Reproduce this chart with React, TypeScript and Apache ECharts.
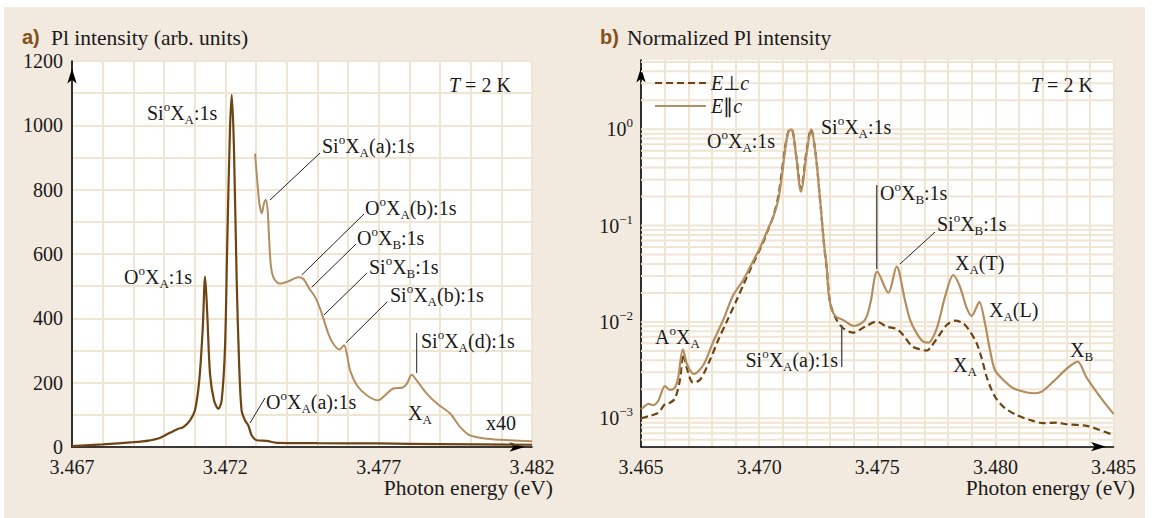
import React, { useEffect, useRef } from "react";
import * as echarts from "echarts";

// ---------- Panel a) : PL intensity (linear) ----------
const xTicksA = [3.467, 3.472, 3.477, 3.482];
const yTicksA = [0, 200, 400, 600, 800, 1000, 1200];

// main spectrum [photon energy eV, intensity]
const mainSpectrumA: [number, number][] = [
  [3.467, 3], [3.468, 8], [3.469, 15], [3.4695, 20], [3.46984, 27], [3.47019, 44],
  [3.47045, 56], [3.47063, 62], [3.47085, 83], [3.47101, 114], [3.47115, 207],
  [3.47126, 363], [3.47134, 530], [3.47141, 415], [3.4715, 228], [3.47163, 145],
  [3.47177, 119], [3.47188, 145], [3.47199, 311], [3.47206, 622], [3.47215, 984],
  [3.47221, 1095], [3.47228, 933], [3.47237, 518], [3.47245, 259], [3.47253, 114],
  [3.47264, 83], [3.47275, 67], [3.47286, 36], [3.47302, 21], [3.47335, 19],
  [3.47368, 13], [3.475, 12], [3.477, 11], [3.479, 9], [3.482, 7],
];

// x40 magnified spectrum
const x40SpectrumA: [number, number][] = [
  [3.47297, 912], [3.47304, 829], [3.47311, 757], [3.47319, 727], [3.47326, 757],
  [3.47332, 769], [3.47338, 736], [3.47343, 643], [3.47349, 560], [3.47359, 523],
  [3.47378, 508], [3.47405, 515], [3.47438, 528], [3.47454, 523], [3.47474, 492],
  [3.47493, 466], [3.47509, 430], [3.4752, 399], [3.47536, 352], [3.47552, 321],
  [3.47572, 303], [3.47587, 316], [3.47596, 290], [3.47607, 238], [3.47629, 192],
  [3.47661, 161], [3.47699, 145], [3.47721, 161], [3.47748, 182], [3.47779, 185],
  [3.47792, 197], [3.47808, 225], [3.47824, 207], [3.47857, 166], [3.4789, 135],
  [3.47933, 104], [3.47966, 62], [3.47998, 36], [3.48053, 26], [3.48129, 21],
  [3.482, 18],
];

// ---------- Panel b) : normalized PL intensity (log) ----------
const xTicksB = [3.465, 3.47, 3.475, 3.48, 3.485];
const yDecadesB = [-3, -2, -1, 0];

// E perpendicular c (dashed)
const perpSpectrumB: [number, number][] = [
  [3.465, 0.001], [3.46538, 0.00106], [3.46573, 0.00114], [3.46602, 0.00141],
  [3.46623, 0.00145], [3.46644, 0.00161], [3.46665, 0.00251], [3.46679, 0.00465],
  [3.46693, 0.00338], [3.46721, 0.00234], [3.4675, 0.00251], [3.46792, 0.00403],
  [3.46827, 0.0065], [3.46863, 0.01007], [3.46905, 0.0169], [3.46933, 0.0242],
  [3.4696, 0.034], [3.46984, 0.045], [3.47018, 0.068], [3.47039, 0.092],
  [3.4706, 0.125], [3.47081, 0.2], [3.47096, 0.36], [3.4711, 0.65], [3.47124, 0.95],
  [3.47137, 1.0], [3.47157, 0.53], [3.47177, 0.24], [3.47201, 0.6], [3.4722, 1.0],
  [3.47239, 0.56], [3.47258, 0.185], [3.47275, 0.063], [3.47286, 0.036],
  [3.47301, 0.0156], [3.47328, 0.0105], [3.47356, 0.0086], [3.47399, 0.00774],
  [3.47448, 0.00893], [3.47498, 0.01007], [3.4754, 0.00893], [3.47582, 0.00845],
  [3.4761, 0.00733], [3.47646, 0.00562], [3.47681, 0.0052], [3.47709, 0.00504],
  [3.47723, 0.00533], [3.47758, 0.00703], [3.47794, 0.00929], [3.47829, 0.0103],
  [3.47864, 0.00968], [3.47893, 0.00793], [3.47921, 0.006], [3.47942, 0.0042],
  [3.47963, 0.0027], [3.47984, 0.00197], [3.48006, 0.00157], [3.48041, 0.00127],
  [3.4809, 0.00108], [3.48147, 0.00096], [3.48206, 0.00089], [3.4826, 0.0009],
  [3.48299, 0.00087], [3.48392, 0.00083], [3.48439, 0.00076], [3.485, 0.00067],
];

// E parallel c (solid)
const parSpectrumB: [number, number][] = [
  [3.465, 0.00124], [3.4651, 0.0013], [3.46531, 0.00141], [3.46552, 0.00137],
  [3.46573, 0.00152], [3.46602, 0.00216], [3.46623, 0.00197], [3.46644, 0.00209],
  [3.46658, 0.0027], [3.46677, 0.0052], [3.46696, 0.00357], [3.46724, 0.00288],
  [3.46764, 0.00357], [3.46806, 0.00624], [3.46848, 0.0105], [3.46891, 0.0191],
  [3.46933, 0.0273], [3.46984, 0.0476], [3.46999, 0.0558], [3.47018, 0.0708],
  [3.47039, 0.0938], [3.4706, 0.124], [3.47081, 0.185], [3.47096, 0.322],
  [3.4711, 0.61], [3.47124, 0.944], [3.47137, 1.0], [3.47157, 0.52], [3.47177, 0.225],
  [3.47201, 0.56], [3.4722, 1.0], [3.47239, 0.56], [3.47258, 0.185], [3.47275, 0.063],
  [3.47286, 0.0375], [3.47294, 0.0198], [3.47308, 0.0133], [3.47325, 0.01135],
  [3.47355, 0.0105], [3.47402, 0.00908], [3.47448, 0.0105], [3.47471, 0.0157],
  [3.475, 0.0333], [3.47547, 0.0201], [3.47582, 0.0375], [3.47617, 0.0169],
  [3.47639, 0.0105], [3.47667, 0.00762], [3.47695, 0.00624], [3.47716, 0.0061],
  [3.47752, 0.0086], [3.47787, 0.0183], [3.47822, 0.0307], [3.4785, 0.0232],
  [3.47879, 0.0139], [3.479, 0.01153], [3.47921, 0.0144], [3.47932, 0.0162],
  [3.47956, 0.00968], [3.47977, 0.00512], [3.47998, 0.00317], [3.48034, 0.0025],
  [3.48076, 0.00205], [3.48133, 0.00185], [3.48168, 0.00182], [3.48196, 0.00189],
  [3.48245, 0.0024], [3.48288, 0.00305], [3.48316, 0.00349], [3.48348, 0.00387],
  [3.48384, 0.0027], [3.48407, 0.00222], [3.48453, 0.00155], [3.485, 0.00111],
];

const FONT = "Liberation Serif";
const GRIDC = "#f0e4d3";
const DARK = "#6e4413";
const LIGHT = "#b38e60";
const BG = "#f2eadf";
const TXT = "#1a1a1a";
const LABEL_BROWN = "#83511a";

const richBase = {
  sub: { fontSize: 13, lineHeight: 13, verticalAlign: "bottom", fontFamily: FONT, fill: TXT },
  sup: { fontSize: 13, lineHeight: 16, verticalAlign: "top", fontFamily: FONT, fill: TXT },
  it: { fontStyle: "italic", fontSize: 20, lineHeight: 26, fontFamily: FONT, fill: TXT },
};

function txt(text: string, x: number, y: number, align: string = "left", extra: any = {}) {
  return {
    type: "text",
    x,
    y,
    z: 20,
    style: {
      text,
      fontFamily: FONT,
      fontSize: 20,
      lineHeight: 26,
      fill: TXT,
      align,
      verticalAlign: "middle",
      rich: richBase,
      ...extra,
    },
  };
}

function leader(x1: number, y1: number, x2: number, y2: number, color = "#222", w = 1) {
  return {
    type: "line",
    z: 20,
    shape: { x1, y1, x2, y2 },
    style: { stroke: color, lineWidth: w },
  };
}

const near = (v: number, arr: number[]) => arr.some((t) => Math.abs(t - v) < 1e-7);

export default function App() {
  const ref = useRef<HTMLDivElement>(null);

  useEffect(() => {
    if (!ref.current) return;
    const chart = echarts.init(ref.current, undefined, { renderer: "svg" });

    // horizontal log grid lines for panel b (1..9 x 10^n)
    const logGrid: [number, number][] = [];
    for (let n = -4; n <= 0; n++) {
      for (let k = 1; k <= 9; k++) {
        const l = Math.log10(k * Math.pow(10, n));
        if (l > -3.295 && l < 0.719) logGrid.push([3.475, l]);
      }
    }

    const axisLineCommon = {
      show: true,
      onZero: false,
      lineStyle: { color: "#000", width: 1.6 },
      symbol: ["none", "arrow"],
      symbolSize: [7, 15],
      symbolOffset: [0, -7.5],
    };
    const labelCommon = { fontFamily: FONT, fontSize: 20, color: TXT };
    const big = { fontSize: 21.5 };

    const option: any = {
      animation: false,
      backgroundColor: "transparent",
      grid: [
        { left: 72, top: 61, width: 460, height: 386, show: true, backgroundColor: "#fff", borderWidth: 0, containLabel: false, outerBoundsMode: "none" },
        { left: 641, top: 60, width: 472.5, height: 386.7, show: true, backgroundColor: "#fff", borderWidth: 0, containLabel: false, outerBoundsMode: "none" },
      ],
      xAxis: [
        {
          gridIndex: 0, type: "value", min: 3.467, max: 3.482, interval: 0.001,
          axisLine: axisLineCommon, axisTick: { show: false },
          splitLine: { show: true, lineStyle: { color: GRIDC, width: 2 } },
          axisLabel: { ...labelCommon, margin: 10, formatter: (v: number) => (near(v, xTicksA) ? v.toFixed(3) : "") },
        },
        {
          gridIndex: 1, type: "value", min: 3.465, max: 3.485, interval: 0.001,
          axisLine: axisLineCommon, axisTick: { show: false },
          splitLine: { show: true, lineStyle: { color: GRIDC, width: 2 } },
          axisLabel: { ...labelCommon, margin: 10, formatter: (v: number) => (near(v, xTicksB) ? v.toFixed(3) : "") },
        },
      ],
      yAxis: [
        {
          gridIndex: 0, type: "value", min: 0, max: 1200, interval: 100,
          axisLine: axisLineCommon, axisTick: { show: false },
          splitLine: { show: true, lineStyle: { color: GRIDC, width: 2 } },
          axisLabel: { ...labelCommon, margin: 9, formatter: (v: number) => (near(v, yTicksA) ? String(Math.round(v)) : "") },
        },
        {
          gridIndex: 1, type: "value", min: -3.295, max: 0.719,
          axisLine: axisLineCommon, axisTick: { show: false },
          splitLine: { show: false },
          axisLabel: {
            ...labelCommon, margin: 8, lineHeight: 26,
            formatter: (v: number) => {
              const r = Math.round(v);
              if (Math.abs(v - r) > 1e-6 || !yDecadesB.includes(r)) return "";
              return "10{sup|" + (r === 0 ? "0" : "\u2212" + -r) + "}";
            },
            rich: { sup: { fontFamily: FONT, fontSize: 13, lineHeight: 16, verticalAlign: "top", color: TXT } },
          },
        },
      ],
      series: [
        {
          type: "custom", xAxisIndex: 1, yAxisIndex: 1, z: 1, silent: true,
          data: logGrid,
          renderItem: (params: any, api: any) => {
            const p1 = api.coord([3.465, api.value(1)]);
            const p2 = api.coord([3.485, api.value(1)]);
            return { type: "line", shape: { x1: p1[0], y1: p1[1], x2: p2[0], y2: p2[1] }, style: { stroke: GRIDC, lineWidth: 2 } };
          },
        },
        {
          type: "line", xAxisIndex: 0, yAxisIndex: 0, data: x40SpectrumA, showSymbol: false,
          smooth: 0.3, lineStyle: { color: LIGHT, width: 2 }, z: 3, silent: true,
        },
        {
          type: "line", xAxisIndex: 0, yAxisIndex: 0, data: mainSpectrumA, showSymbol: false,
          smooth: 0.3, lineStyle: { color: DARK, width: 2.2 }, z: 4, silent: true,
        },
        {
          type: "line", xAxisIndex: 1, yAxisIndex: 1, name: "E\u22a5c",
          data: perpSpectrumB.map(([e, v]) => [e, Math.log10(v)]), showSymbol: false,
          smooth: 0.3, lineStyle: { color: DARK, width: 2.2, type: [7, 4] }, z: 3, silent: true,
        },
        {
          type: "line", xAxisIndex: 1, yAxisIndex: 1, name: "E\u2225c",
          data: parSpectrumB.map(([e, v]) => [e, Math.log10(v)]), showSymbol: false,
          smooth: 0.3, lineStyle: { color: LIGHT, width: 2.2 }, z: 4, silent: true,
        },
      ],
      graphic: [
        { type: "rect", z: -1, shape: { x: 4, y: 7, width: 1141, height: 511 }, style: { fill: BG } },
        // panel a titles
        txt("a)", 22, 37, "left", { fontFamily: "Liberation Sans", fontWeight: "bold", fill: LABEL_BROWN, fontSize: 20 }),
        txt("Pl intensity (arb. units)", 51, 38, "left", big),
        txt("Photon energy (eV)", 553, 488, "right", big),
        txt("{it|T} = 2 K", 449, 85),
        txt("Si{sup|o}X{sub|A}:1s", 147, 113),
        txt("Si{sup|o}X{sub|A}(a):1s", 322, 146),
        txt("O{sup|o}X{sub|A}(b):1s", 365, 208),
        txt("O{sup|o}X{sub|B}:1s", 357, 238),
        txt("Si{sup|o}X{sub|B}:1s", 369, 267),
        txt("Si{sup|o}X{sub|A}(b):1s", 390, 295),
        txt("Si{sup|o}X{sub|A}(d):1s", 421, 341),
        txt("O{sup|o}X{sub|A}:1s", 124, 277),
        txt("O{sup|o}X{sub|A}(a):1s", 266, 402),
        txt("X{sub|A}", 408, 413),
        txt("x40", 486, 423),
        leader(320, 153, 270, 200),
        leader(364, 214, 301.7, 275),
        leader(356, 244, 311.7, 287.3),
        leader(366.7, 273.3, 324, 315),
        leader(387.3, 301.7, 346, 342.7),
        leader(416.7, 333, 416.7, 373),
        leader(265, 398, 250, 423),
        // panel b titles
        txt("b)", 600, 37, "left", { fontFamily: "Liberation Sans", fontWeight: "bold", fill: LABEL_BROWN, fontSize: 20 }),
        txt("Normalized Pl intensity", 627, 38, "left", big),
        txt("Photon energy (eV)", 1135, 488, "right", big),
        txt("{it|T} = 2 K", 1031, 85),
        // legend
        { type: "line", z: 20, shape: { x1: 655, y1: 83, x2: 706, y2: 83 }, style: { stroke: DARK, lineWidth: 2.2, lineDash: [7, 4] } },
        txt("{it|E}\u22a5{it|c}", 711, 83),
        { type: "line", z: 20, shape: { x1: 655, y1: 106, x2: 706, y2: 106 }, style: { stroke: LIGHT, lineWidth: 2.2 } },
        txt("{it|E}\u2225{it|c}", 711, 106),
        // annotations
        txt("O{sup|o}X{sub|A}:1s", 707, 141),
        txt("Si{sup|o}X{sub|A}:1s", 821, 127),
        txt("O{sup|o}X{sub|B}:1s", 880, 193),
        txt("Si{sup|o}X{sub|B}:1s", 937, 224),
        txt("X{sub|A}(T)", 955, 263),
        txt("X{sub|A}(L)", 989, 310),
        txt("X{sub|B}", 1070, 350),
        txt("X{sub|A}", 953, 365),
        txt("A{sup|o}X{sub|A}", 655, 337),
        txt("Si{sup|o}X{sub|A}(a):1s", 838, 360, "right"),
        leader(876.7, 185, 876.7, 269, "#555", 1.5),
        leader(935, 232, 900, 264),
        leader(841.7, 325, 841.7, 367, "#555", 1.5),
      ],
    };

    chart.setOption(option);
    return () => chart.dispose();
  }, []);

  return (
    <div
      ref={ref}
      style={{ position: "fixed", left: 0, top: 0, width: 1153, height: 518, background: "#fff" }}
    />
  );
}
